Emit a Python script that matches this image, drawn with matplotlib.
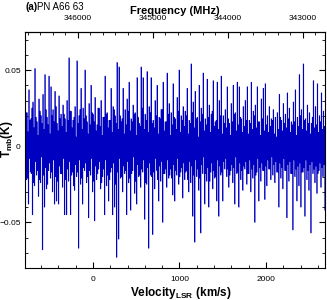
import matplotlib
matplotlib.use('Agg')
import matplotlib.pyplot as plt
from matplotlib.ticker import MultipleLocator, FixedLocator, FuncFormatter
import numpy as np

# spectrum, one group of values per 2-pixel column (mK)
peak_hi = [68, 22, 37, 18, 29, 51, 16, 31, 20, 34,
           47, 19, 46, 39, 24, 36, 15, 33, 21, 27,
           18, 30, 58, 23, 17, 26, 56, 20, 38, 25,
           50, 16, 28, 40, 21, 32, 14, 25, 30, 19,
           46, 22, 17, 38, 26, 20, 55, 52, 16, 38,
           24, 31, 42, 18, 27, 22, 45, 15, 52, 45,
           21, 49, 26, 45, 17, 30, 40, 19, 24, 42,
           16, 48, 28, 22, 41, 18, 32, 50, 20, 26,
           23, 38, 17, 54, 29, 36, 19, 40, 25, 48,
           18, 44, 27, 21, 43, 16, 42, 30, 46, 20,
           24, 39, 15, 28, 40, 22, 42, 39, 18, 26,
           30, 39, 17, 42, 23, 27, 39, 16, 31, 38,
           41, 20, 26, 18, 24, 19, 22, 34, 17, 28,
           21, 35, 25, 16, 29, 37, 19, 47, 24, 54,
           18, 27, 22, 15, 43, 26, 41, 20, 35, 23]
peak_lo = [-22, -38, -17, -45, -26, -19, -33, -24, -68, -40,
           -28, -16, -21, -30, -38, -36, -38, -18, -27, -45,
           -45, -23, -45, -17, -29, -20, -67, -25, -38, -16,
           -24, -47, -19, -30, -49, -22, -15, -28, -20, -45,
           -26, -36, -17, -45, -40, -73, -61, -21, -30, -18,
           -45, -24, -42, -16, -31, -38, -20, -27, -17, -48,
           -25, -67, -19, -58, -28, -16, -36, -23, -50, -18,
           -27, -21, -15, -32, -36, -19, -25, -17, -34, -22,
           -16, -30, -24, -46, -63, -20, -29, -57, -18, -38,
           -23, -40, -17, -28, -21, -36, -46, -19, -36, -15,
           -20, -27, -16, -24, -38, -18, -40, -22, -29, -15,
           -25, -18, -30, -21, -50, -17, -36, -23, -16, -35,
           -26, -15, -22, -19, -24, -17, -40, -21, -28, -16,
           -47, -23, -18, -55, -20, -36, -26, -40, -17, -46,
           -22, -29, -57, -18, -24, -31, -16, -27, -20, -42]
core_hi = [22, 9, 17, 25, 12, 19, 7, 23, 15, 11,
           24, 14, 8, 20, 16, 26, 10, 18, 13, 21,
           9, 17, 23, 12, 19, 6, 15, 24, 11, 18,
           20, 8, 14, 22, 16, 10, 25, 13, 7, 19,
           21, 12, 17, 9, 24, 15, 11, 20, 18, 8,
           14, 23, 10, 16, 21, 7, 19, 13, 25, 11,
           17, 9, 22, 15, 12, 20, 8, 18, 24, 10,
           16, 21, 7, 14, 19, 11, 23, 9, 17, 13,
           20, 8, 15, 22, 12, 18, 6, 16, 21, 10,
           14, 19, 9, 23, 13, 17, 11, 20, 8, 15,
           12, 18, 7, 16, 21, 10, 14, 19, 9, 13,
           17, 8, 15, 11, 20, 12, 16, 7, 18, 10,
           14, 9, 13, 17, 8, 6, 11, 19, 10, 15,
           12, 18, 9, 14, 16, 7, 13, 20, 11, 17,
           10, 15, 8, 19, 12, 14, 9, 16, 11, 13]
core_lo = [-12, -21, -8, -18, -24, -10, -16, -22, -7, -19,
           -14, -25, -11, -17, -9, -20, -23, -13, -18, -8,
           -22, -15, -10, -19, -26, -12, -17, -9, -21, -14,
           -11, -20, -16, -8, -23, -13, -18, -10, -24, -15,
           -9, -19, -22, -14, -11, -25, -17, -8, -20, -13,
           -16, -10, -21, -18, -7, -23, -12, -19, -15, -9,
           -24, -14, -11, -20, -17, -8, -22, -13, -10, -18,
           -15, -9, -19, -21, -12, -16, -8, -20, -14, -11,
           -17, -22, -10, -13, -19, -9, -15, -21, -12, -7,
           -18, -14, -23, -11, -16, -20, -9, -13, -17, -10,
           -8, -15, -19, -12, -14, -7, -17, -11, -16, -13,
           -10, -18, -9, -15, -12, -19, -8, -14, -11, -16,
           -13, -9, -15, -7, -12, -10, -17, -11, -14, -8,
           -16, -12, -10, -18, -9, -15, -13, -11, -17, -14,
           -9, -16, -12, -10, -15, -13, -18, -11, -14, -12]

freq_ticks = [343000, 344000, 345000, 346000]   # MHz, labelled on top axis

v_first, v_last = -786.0, 2682.0   # km/s, ends of the channel grid
f_rest = 345795.99                  # MHz, CO J=3-2
c_kms = 299792.458

plt.rcParams['font.family'] = ['Liberation Sans', 'DejaVu Sans']
plt.rcParams['mathtext.fontset'] = 'custom'
plt.rcParams['mathtext.rm'] = 'Liberation Sans'
plt.rcParams['mathtext.bf'] = 'Liberation Sans:bold'

tmb = np.column_stack([peak_hi, core_lo, core_hi, peak_lo]).ravel() / 1000.0
vel = np.linspace(v_first, v_last, tmb.size)

fig, ax = plt.subplots(figsize=(3.27, 3.0), dpi=100)
fig.subplots_adjust(left=25 / 327, right=325 / 327, top=1 - 32 / 300, bottom=1 - 268 / 300)

ax.plot(vel, tmb, drawstyle='steps-mid', color='#0000c0', lw=0.5)
ax.set_xlim(v_first, v_last)
ax.set_ylim(-0.080, 0.075)

ax.xaxis.set_major_locator(MultipleLocator(1000))
ax.xaxis.set_minor_locator(MultipleLocator(200))
ax.yaxis.set_major_locator(MultipleLocator(0.05))
ax.yaxis.set_minor_locator(MultipleLocator(0.01))
ax.yaxis.set_major_formatter(FuncFormatter(
    lambda y, _: '0' if abs(y) < 1e-9 else '{:.2f}'.format(y).replace('-', '\u2212')))
ax.tick_params(which='both', direction='in', right=True, top=False, labelsize=6)
ax.tick_params(axis='x', pad=6)
ax.tick_params(axis='y', pad=3)
ax.tick_params(which='major', length=4, width=0.8)
ax.tick_params(which='minor', length=2, width=0.6)
for s in ax.spines.values():
    s.set_linewidth(0.8)

secax = ax.secondary_xaxis('top', functions=(lambda v: f_rest * (1 - v / c_kms),
                                             lambda f: c_kms * (1 - f / f_rest)))
secax.xaxis.set_major_locator(FixedLocator(freq_ticks))
secax.xaxis.set_minor_locator(MultipleLocator(1000 / 6))
secax.tick_params(which='both', direction='in', labelsize=6, pad=7)
secax.tick_params(which='major', length=4, width=0.8)
secax.tick_params(which='minor', length=2, width=0.6)
secax.set_xlabel('Frequency (MHz)', fontsize=8, fontweight='bold', labelpad=1)

ax.set_xlabel(r'$\mathbf{Velocity}_{\mathbf{LSR}}\mathbf{\ (km/s)}$', fontsize=8.5,
              labelpad=1, x=0.52)
ax.set_ylabel(r'$\mathbf{T}_{\mathbf{mb}}\mathbf{(K)}$', fontsize=8.5)
ax.yaxis.label.set_verticalalignment('center')
ax.yaxis.set_label_coords(-0.061, 0.547)

tag = fig.text(25 / 327, 1 - 7.5 / 300, '(a)', fontsize=7, fontweight='bold',
               va='center', ha='left')
ax.annotate('PN A66 63', xy=(1, 0.5), xycoords=tag, fontsize=7, va='center', ha='left')

fig.savefig('out.png', dpi=100)
